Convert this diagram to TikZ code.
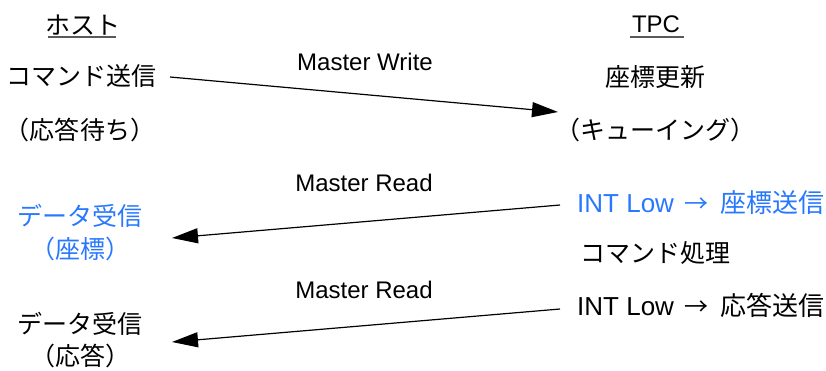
\documentclass[tikz,border=0pt]{standalone}
\usepackage{fontspec}
\setmainfont{Liberation Sans}
\newfontfamily\jp{Noto Sans CJK JP}
\usetikzlibrary{arrows.meta}
\definecolor{tblue}{RGB}{40,120,255}
\newcommand{\intline}[1]{\fontsize{26}{30}\selectfont INT Low\hspace{10pt}{\jp\fontsize{24}{30}\selectfont →}\hspace{12pt}{\jp\fontsize{26}{30}\selectfont #1}}
\begin{document}
\begin{tikzpicture}[x=1pt,y=-1pt,
  txt/.style={inner sep=0pt,anchor=center,font=\fontsize{24}{28}\selectfont},
  jtxt/.style={inner sep=0pt,anchor=center,font=\jp\fontsize{25}{30}\selectfont},
  msg/.style={line width=1.2pt,-{Triangle[length=26pt,width=15pt]}}]
\useasboundingbox (0,0) rectangle (826,371);
% headers
\node[jtxt] (host) at (83,25) {ホスト};
\node[txt] (tpc) at (656,24) {TPC};
\draw[line width=1.2pt,gray!70!black] (48,37) -- (116,37);
\draw[line width=1.2pt,gray!70!black] (630,37) -- (684,37);
% host side
\node[jtxt] (cmd) at (81,76) {コマンド送信};
\node[jtxt] (wait) at (80,130) {（応答待ち）};
\node[jtxt,text=tblue] (recv1) at (80,216) {データ受信};
\node[jtxt,text=tblue] (coord) at (80,249) {（座標）};
\node[jtxt] (recv2) at (80,324) {データ受信};
\node[jtxt] (resp) at (80,356) {（応答）};
% TPC side
\node[jtxt] (upd) at (655,77) {座標更新};
\node[jtxt] (queue) at (655,130) {（キューイング）};
\node[inner sep=0pt,text=tblue,anchor=west] (int1) at (577,203) {\intline{座標送信}};
\node[jtxt] (proc) at (655,253) {コマンド処理};
\node[inner sep=0pt,anchor=west] (int2) at (577,305) {\intline{応答送信}};
% message ends
\coordinate (w1s) at (170,77);
\coordinate (w1e) at (558,112);
\coordinate (r1s) at (560,205);
\coordinate (r1e) at (172,238);
\coordinate (r2s) at (560,309);
\coordinate (r2e) at (172,342);
\draw[msg] (w1s) -- (w1e);
\draw[msg] (r1s) -- (r1e);
\draw[msg] (r2s) -- (r2e);
% labels
\node[txt] (lw) at (365,62) {Master Write};
\node[txt] (lr1) at (364,183) {Master Read};
\node[txt] (lr2) at (364,290) {Master Read};
\end{tikzpicture}
\end{document}
